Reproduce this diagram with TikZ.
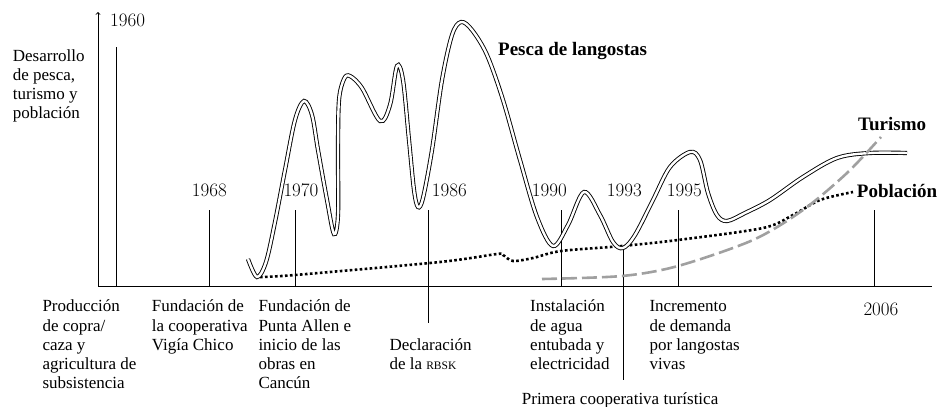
\documentclass[tikz,border=0pt]{standalone}
\usepackage{fontspec}
\newfontfamily\etiqueta{Liberation Serif}
\usepackage{xcolor}
\definecolor{gristurismo}{RGB}{160,160,160}
\tikzset{
	anio/.style={
		font=\fontsize{19}{22}\selectfont,
		inner sep=0pt,
		anchor=base west
	},
	evento/.style={
		font=\etiqueta\fontsize{17}{19.3}\selectfont,
		align=left,
		inner sep=0pt,
		anchor=base west
	},
	serie/.style={
		font=\etiqueta\bfseries\fontsize{19}{22}\selectfont,
		inner sep=0pt,
		anchor=base west
	},
	eje/.style={line width=0.9pt},
	marca/.style={line width=0.8pt},
	langosta/.style={double, double distance=2.4pt, line width=0.9pt},
	poblacion/.style={line width=2.6pt, dash pattern=on 2.6pt off 2.4pt},
	turismo/.style={line width=2.6pt, gristurismo, dash pattern=on 15pt off 5pt}
}

\begin{document}
\begin{tikzpicture}[x=1pt,y=-1pt]
	\useasboundingbox (0,0) rectangle (938,407);
	
	\coordinate (origen) at (98,286);
	\coordinate (tope) at (98,12);
	\coordinate (fin) at (932,286);
	\draw[eje,->] (origen) -- (tope);
	\draw[eje] (origen) -- (fin);
	
	\foreach \x/\ya/\yb in {116/47/286, 209/210/286, 295/210/286, 428/210/323, 561/210/286, 623/248/380, 678/210/286, 874/210/286}
		\draw[marca] (\x,\ya) -- (\x,\yb);
	
	\draw[poblacion] plot[smooth, tension=0.5] coordinates {(260,277) (295,275) (440,262) (497,254) (503,255) (513,261) (533,258) (561,251) (622,246) (678,240) (763,228) (793,215) (820,200) (853,192)};
	
	\draw[langosta] plot[smooth, tension=0.55] coordinates {(248,259) (257,277) (266,262) (275,222) (285,170) (295,120) (304,101) (312,115) (318,150) (327,200) (334,234) (338,215) (338,150) (339,100) (344,79) (350,76) (362,88) (380,121) (390,105) (397,66) (403,80) (409,140) (414,190) (418,207) (423,198) (432,150) (442,80) (452,35) (461,22) (472,30) (487,55) (503,100) (520,160) (537,217) (553,246) (568,225) (584,192) (600,215) (613,242) (623,248) (635,235) (653,200) (670,167) (690,152) (700,160) (708,193) (717,215) (727,221) (745,213) (770,200) (803,177) (837,158) (870,153) (907,153)};
	
	\draw[turismo] plot[smooth, tension=0.5] coordinates {(542,279) (622,276) (678,266) (753,240) (803,210) (847,173) (881,137)};
	
	% base = last line, so y is the baseline of the last line
	\node[evento] (ylabel) at (12.7,118.9) {Desarrollo\\de pesca,\\turismo y\\población};
	
	\node[anio] (a1960) at (110,26.7) {1960};
	\node[anio] (a1968) at (191.7,196.7) {1968};
	\node[anio] (a1970) at (283.3,196.7) {1970};
	\node[anio] (a1986) at (431.7,196.7) {1986};
	\node[anio] (a1990) at (531.7,196.7) {1990};
	\node[anio] (a1993) at (606.7,196.7) {1993};
	\node[anio] (a1995) at (666.7,196.7) {1995};
	\node[anio] (a2006) at (863.3,315) {2006};
	
	\node[evento] (copra) at (42.3,388.9) {Producción\\de copra/\\caza y\\agricultura de\\subsistencia};
	\node[evento] (vigia) at (151.7,350.3) {Fundación de\\la cooperativa\\Vigía Chico};
	\node[evento] (allen) at (258.3,388.9) {Fundación de\\Punta Allen e\\inicio de las\\obras en\\Cancún};
	\node[evento] (rbsk) at (389.3,369.3) {Declaración\\de la {\fontsize{11.5}{19}\selectfont RBSK}};
	\node[evento] (agua) at (530,369.6) {Instalación\\de agua\\entubada y\\electricidad};
	\node[evento] (coop) at (521.7,404) {Primera cooperativa turística};
	\node[evento] (demanda) at (649.3,369.6) {Incremento\\de demanda\\por langostas\\vivas};
	
	\node[serie] (pesca) at (498,55) {Pesca de langostas};
	\node[serie] (tur) at (858,130) {Turismo};
	\node[serie] (pob) at (856.7,197) {Población};
\end{tikzpicture}
\end{document}
